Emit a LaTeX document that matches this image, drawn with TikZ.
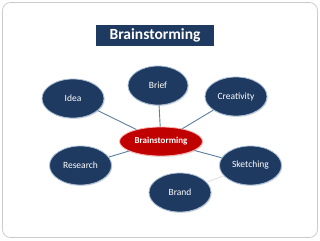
\documentclass[tikz,border=0pt]{standalone}
\usepackage{fontspec}
\setmainfont{Carlito}
\usetikzlibrary{shapes.geometric,shadows}
\definecolor{navy}{HTML}{1F3A60}
\definecolor{rimc}{HTML}{A9BFD8}
\definecolor{redc}{HTML}{C00000}
\definecolor{linkc}{HTML}{5B7E9E}
\definecolor{framec}{HTML}{CCCCCC}
\tikzset{
  bubble/.style={ellipse, fill=navy, draw=rimc, line width=0.8pt, minimum width=62pt, minimum height=39pt, inner sep=0pt, text=white, font=\fontsize{9.5}{11}\selectfont, drop shadow={shadow xshift=0.8pt, shadow yshift=-1pt, opacity=0.25}},
  hub/.style={ellipse, fill=redc, draw=red!30, line width=0.8pt, minimum width=83pt, minimum height=29pt, inner sep=0pt, text=white, font=\bfseries\fontsize{9}{10}\selectfont, drop shadow={shadow xshift=0.8pt, shadow yshift=-1pt, opacity=0.25}},
  link/.style={draw=linkc, line width=0.9pt},
  palelink/.style={draw=gray!25, line width=0.9pt},
  titlebox/.style={fill=navy, text=white, minimum width=118pt, minimum height=21pt, inner sep=0pt, font=\bfseries\fontsize{15.5}{17}\selectfont}
}
\begin{document}
\begin{tikzpicture}[x=1pt,y=-1pt]
\useasboundingbox (0,0) rectangle (320,240);
\draw[framec, line width=0.8pt, rounded corners=8pt] (2.5,2.5) rectangle (317.5,237.5);
\node[titlebox] (title) at (155,35.5) {Brainstorming};
\node[hub] (c) at (161,141.5) {Brainstorming};
\node[bubble] (idea) at (73,98.5) {Idea};
\node[bubble, minimum width=60pt] (brief) at (158,85.5) {Brief};
\node[bubble] (crea) at (236,96.5) {Creativity};
\node[bubble] (res) at (80.5,165.5) {Research};
\node[bubble] (sketch) at (250.5,165.5) {Sketching};
\node[bubble] (brand) at (180,192.5) {Brand};
\path[link] (idea) -- (c);
\path[link] (brief) -- (c);
\path[link] (crea) -- (c);
\path[link] (res) -- (c);
\path[link] (sketch) -- (c);
\path[palelink] (brand) -- (sketch);
\end{tikzpicture}
\end{document}
